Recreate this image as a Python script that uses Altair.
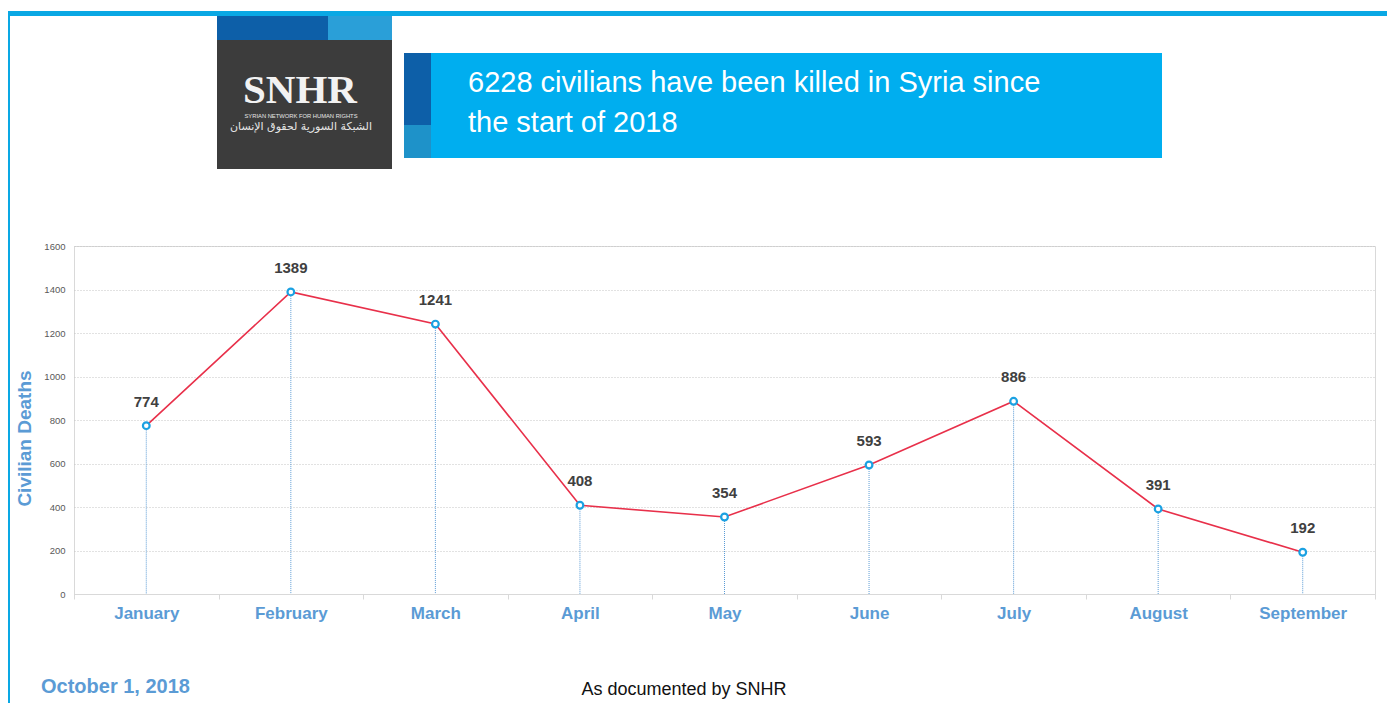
import altair as alt
import pandas as pd

months = ["January", "February", "March", "April", "May", "June", "July", "August", "September"]
deaths = [774, 1389, 1241, 408, 354, 593, 886, 391, 192]
y_ticks = [0, 200, 400, 600, 800, 1000, 1200, 1400, 1600]

title_line1 = "6228 civilians have been killed in Syria since"
title_line2 = "the start of 2018"
date_text = "October 1, 2018"
source_text = "As documented by SNHR"
logo_main = "SNHR"
logo_en = "SYRIAN NETWORK FOR HUMAN RIGHTS"
logo_ar = "الشبكة السورية لحقوق الإنسان"

df = pd.DataFrame({"month": months, "deaths": deaths})
one = pd.DataFrame({"k": [0]})

X0, Y0 = 74, 246  # screen position of plot origin (for decoration offsets)


def box(x1, x2, y1, y2, color):
    return alt.Chart(one).mark_rect(color=color).encode(
        x=alt.value(x1 - X0), x2=alt.value(x2 - X0),
        y=alt.value(y1 - Y0), y2=alt.value(y2 - Y0))


def label(txt, x, y, **kw):
    return alt.Chart(one).mark_text(baseline="alphabetic", **kw).encode(
        x=alt.value(x - X0), y=alt.value(y - Y0), text=alt.value(txt))


x_enc = alt.X("month:N", sort=months, title=None,
              scale=alt.Scale(paddingInner=0, paddingOuter=0),
              axis=alt.Axis(labelAngle=0, labelFont="Liberation Sans", labelFontSize=17,
                            labelFontWeight="bold", labelColor="#5b9bd5", labelPadding=6,
                            tickBand="extent", tickSize=5, tickColor="#d9d9d9",
                            domainColor="#d9d9d9", grid=False))
y_enc = alt.Y("deaths:Q", title="Civilian Deaths",
              scale=alt.Scale(domain=[0, 1600], nice=False),
              axis=alt.Axis(values=y_ticks, format="d", labelFont="Liberation Sans", labelFontSize=9.5,
                            labelColor="#595959", labelPadding=9, ticks=False, domain=False,
                            gridColor="#c4c4c4", gridDash=[1, 2], gridWidth=1,
                            titleFont="Liberation Sans", titleFontSize=19, titleFontWeight="bold",
                            titleColor="#5b9bd5", titleAngle=270, titleX=-50, titleY=192,
                            titleAlign="center", titleBaseline="middle"))

base = alt.Chart(df)
drops = base.mark_rule(color="#5b9bd5", strokeDash=[1, 1], strokeWidth=1).encode(
    x=x_enc, y=y_enc, y2=alt.datum(0))
line = base.mark_line(color="#e8304a", strokeWidth=1.6).encode(x=x_enc, y=y_enc)
pts = base.mark_point(shape="circle", filled=False, fill="white", fillOpacity=1,
                      stroke="#1ba1e2", strokeWidth=2.2, size=45, opacity=1).encode(x=x_enc, y=y_enc)
vals = base.mark_text(font="Liberation Sans", fontSize=15, fontWeight="bold", color="#404040",
                      baseline="alphabetic", dy=-19).encode(x=x_enc, y=y_enc, text="deaths:Q")

decor = [
    box(8, 1387, 11, 16, "#0aa8e4"),
    box(8, 10, 11, 703, "#0aa8e4"),
    # logo
    box(217, 392, 16, 169, "#3c3c3c"),
    box(217, 392, 16, 40, "#0d5fa8"),
    box(328, 392, 16, 40, "#2a9fd8"),
    label(logo_main, 300, 103, font="Liberation Serif", fontSize=41, fontWeight="bold",
          color="#f2f2f2", align="center"),
    label(logo_en, 301, 118, font="Liberation Sans", fontSize=5.8, color="#e6e6e6", align="center"),
    label(logo_ar, 301, 130, font="DejaVu Sans", fontSize=11, color="#e6e6e6", align="center"),
    # title box
    box(404, 1162, 53, 158, "#00aeef"),
    box(404, 431, 53, 125, "#0d5fa8"),
    box(404, 431, 125, 158, "#1e92c9"),
    label(title_line1, 468, 92, font="Liberation Sans", fontSize=29, color="white", align="left"),
    label(title_line2, 468, 132, font="Liberation Sans", fontSize=29, color="white", align="left"),
    # footer
    label(date_text, 41, 693, font="Liberation Sans", fontSize=20, fontWeight="bold",
          color="#5b9bd5", align="left"),
    label(source_text, 684, 695, font="Liberation Sans", fontSize=18, color="#111111", align="center"),
]

chart = alt.layer(*decor, drops, line, pts, vals).properties(
    width=1301, height=348,
    autosize=alt.AutoSizeParams(type="none"),
    padding={"left": 66, "top": 238, "right": 12, "bottom": 109},
    background="white",
).configure_view(stroke="#d9d9d9", strokeWidth=1)

chart.save("out.html", embed_options={"renderer": "svg", "actions": False})
